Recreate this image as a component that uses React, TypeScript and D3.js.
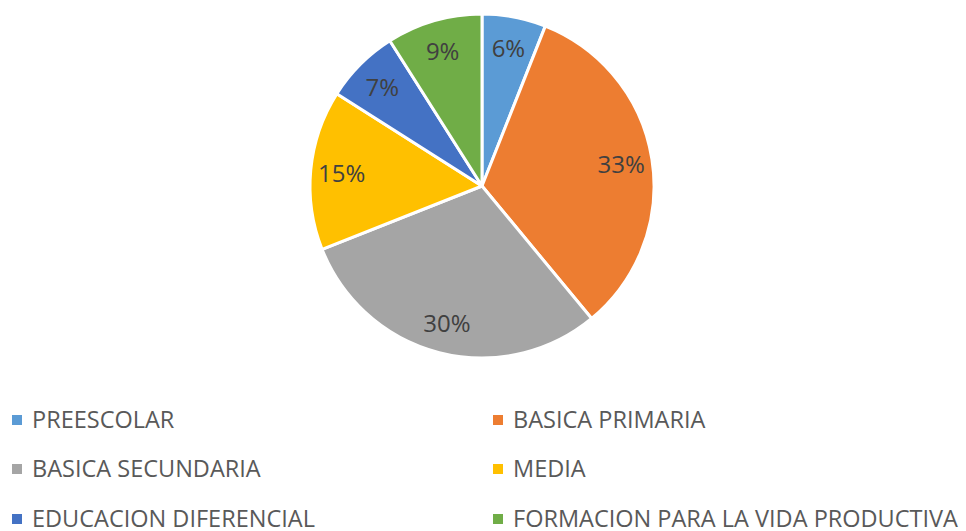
import React from "react";
import * as d3 from "d3";

const categories = [
  "PREESCOLAR",
  "BASICA PRIMARIA",
  "BASICA SECUNDARIA",
  "MEDIA",
  "EDUCACION DIFERENCIAL",
  "FORMACION PARA LA VIDA PRODUCTIVA",
];
const values = [6, 33, 30, 15, 7, 9];
const colors = ["#5B9BD5", "#ED7D31", "#A5A5A5", "#FFC000", "#4472C4", "#70AD47"];

export default function App() {
  const W = 966;
  const H = 531;
  const cx = 482;
  const cy = 186;
  const r = 172;
  const labelR = 141;

  const data = categories.map((c, i) => ({ c, v: values[i], color: colors[i] }));
  const pie = d3.pie<any>().value((d) => d.v).sort(null);
  const arcs = pie(data);
  const arcGen = d3.arc<any>().innerRadius(0).outerRadius(r);
  const total = d3.sum(values);

  const legendX = [12, 493];
  const legendY = [419, 468, 518];

  return (
    <svg
      width={W}
      height={H}
      style={{ position: "absolute", left: 0, top: 0, background: "#fff" }}
      fontFamily="'Open Sans', sans-serif"
    >
      <g transform={`translate(${cx},${cy})`}>
        {arcs.map((a, i) => (
          <path key={i} d={arcGen(a) as string} fill={a.data.color} stroke="#fff" strokeWidth={3} strokeLinejoin="round" />
        ))}
        {arcs.map((a, i) => {
          const mid = (a.startAngle + a.endAngle) / 2;
          const x = Math.sin(mid) * labelR;
          const y = -Math.cos(mid) * labelR;
          return (
            <text
              key={"l" + i}
              x={x}
              y={y}
              textAnchor="middle"
              dominantBaseline="central"
              fontSize={24}
              fill="#404040"
            >
              {Math.round((a.data.v / total) * 100)}%
            </text>
          );
        })}
      </g>
      {data.map((d, i) => {
        const col = i % 2;
        const row = Math.floor(i / 2);
        const x = legendX[col];
        const y = legendY[row];
        return (
          <g key={"lg" + i}>
            <rect x={x} y={y - 4} width={10} height={10} fill={d.color} />
            <text x={x + 20} y={y} dominantBaseline="central" fontSize={23.5} fill="#595959">
              {d.c}
            </text>
          </g>
        );
      })}
    </svg>
  );
}
